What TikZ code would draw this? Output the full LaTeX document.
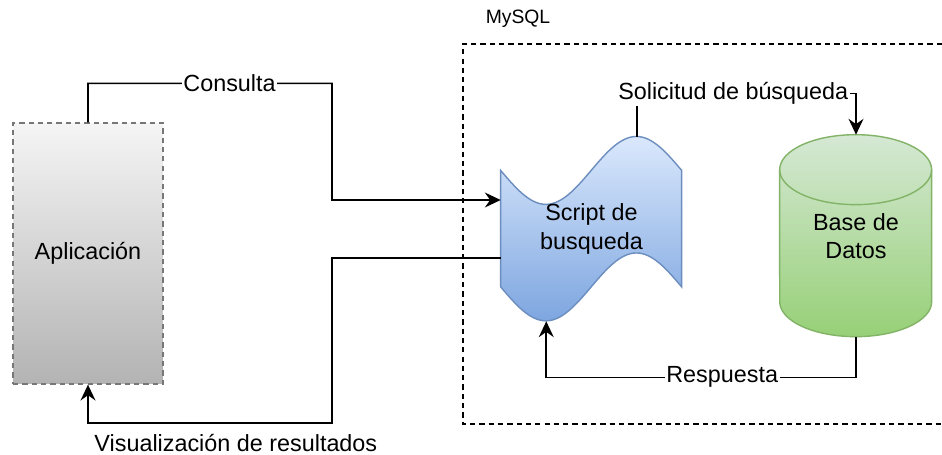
\documentclass[tikz,border=0pt]{standalone}
\usepackage{fontspec}
\setmainfont{Liberation Sans}
\usepackage{xcolor}
\usetikzlibrary{arrows.meta,calc,backgrounds}

\definecolor{grayfill}{HTML}{F5F5F5}
\definecolor{graygrad}{HTML}{B3B3B3}
\definecolor{graystroke}{HTML}{777777}
\definecolor{bluefill}{HTML}{DAE8FC}
\definecolor{bluegrad}{HTML}{7EA6E0}
\definecolor{bluestroke}{HTML}{6C8EBF}
\definecolor{greenfill}{HTML}{D5E8D4}
\definecolor{greengrad}{HTML}{97D077}
\definecolor{greenstroke}{HTML}{82B366}

\begin{document}
\begin{tikzpicture}[
    x=0.02cm, y=-0.02cm,
    font=\fontsize{13.3}{16}\selectfont,
    appbox/.style={rectangle, draw=graystroke, line width=0.8pt, dash pattern=on 3pt off 2.3pt, top color=grayfill, bottom color=graygrad, minimum width=3cm, minimum height=5.22cm},
    holder/.style={rectangle, align=center, inner sep=0pt},
    tapeshape/.style={draw=bluestroke, line width=0.8pt, top color=bluefill, bottom color=bluegrad},
    dbshape/.style={draw=greenstroke, line width=0.8pt, top color=greenfill, bottom color=greengrad},
    container/.style={draw=black, line width=0.8pt, dash pattern=on 3pt off 2.3pt},
    conn/.style={-{Stealth[length=9pt, width=8.5pt, inset=3pt]}, line width=0.9pt, black},
    lbl/.style={fill=white, inner sep=1pt}
]
    \useasboundingbox (0,0) rectangle (942,455);

    % MySQL frame
    \draw[container] (942,44) -- (463,44) -- (463,424) -- (942,424);
    \node[font=\fontsize{11}{13}\selectfont] (mysql) at (518,19) {MySQL};

    % Nodes
    \node[appbox] (app) at (88,253.5) {Aplicación};
    \node[holder, minimum width=3.62cm, minimum height=3.84cm] (script) at (591.5,229) {Script de\\busqueda};
    \node[holder, minimum width=3.04cm, minimum height=4.04cm] (db) at (856,236) {Base de\\Datos};

    % Shapes behind the text
    \begin{scope}[on background layer]
        \shade[tapeshape, shift={(script.north west)}]
            (0,37.75) sin (45.25,71.7) cos (90.5,37.75) sin (135.75,3.8) cos (181,37.75)
            -- (181,154.25) sin (135.75,120.3) cos (90.5,154.25) sin (45.25,188.2) cos (0,154.25)
            -- cycle;
        \shade[dbshape, shift={(db.north west)}]
            (0,35) arc[start angle=180, end angle=0, x radius=1.52cm, y radius=0.7cm]
            -- (152,167) arc[start angle=0, end angle=-180, x radius=1.52cm, y radius=0.7cm]
            -- cycle;
        \draw[draw=greenstroke, line width=0.8pt, shift={(db.north west)}]
            (0,35) arc[start angle=180, end angle=360, x radius=1.52cm, y radius=0.7cm];
    \end{scope}

    % Connectors
    \draw[conn] (app.north) -- ++(0,-39) -| node[lbl, pos=0.29] (consulta) {Consulta} (332,200)
        -- ([yshift=0.58cm]script.west);
    \draw[conn] ([yshift=-0.58cm]script.west) -| (332,423)
        -| node[pos=0.197, yshift=-0.4cm] (visual) {Visualización de resultados} (app.south);
    \draw[conn] ($(script.north)+(45.25,4)$) -- ++(0,-43)
        -| node[lbl, pos=0.22] (solicitud) {Solicitud de búsqueda} (db.north);
    \draw[conn] (db.south) -- ++(0,40)
        -| node[lbl, pos=0.216] (respuesta) {Respuesta} ($(script.south)+(-45.25,-4)$);
\end{tikzpicture}
\end{document}
